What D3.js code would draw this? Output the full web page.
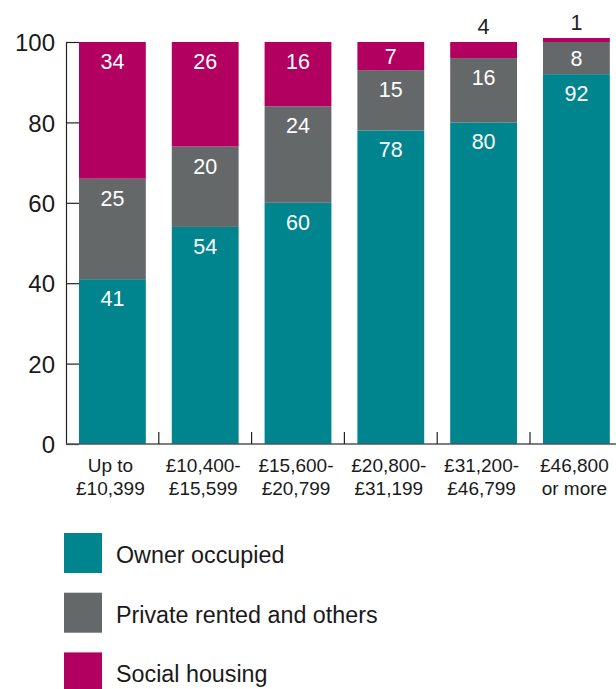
<!DOCTYPE html>
<html>
<head>
<meta charset="utf-8">
<script src="https://cdn.jsdelivr.net/npm/d3@7"></script>
<style>
  html, body { margin: 0; padding: 0; background: #fff; }
  svg { display: block; font-family: "Liberation Sans", Arial, sans-serif; }
</style>
</head>
<body>
<svg id="chart" width="616" height="689"></svg>
<script>
// Household income bands (two-line labels)
const categories = [
  ["Up to", "£10,399"],
  ["£10,400-", "£15,599"],
  ["£15,600-", "£20,799"],
  ["£20,800-", "£31,199"],
  ["£31,200-", "£46,799"],
  ["£46,800", "or more"]
];

// Tenure shares, per cent
const ownerOccupied = [41, 54, 60, 78, 80, 92];
const privateRented = [25, 20, 24, 15, 16, 8];
const socialHousing = [34, 26, 16, 7, 4, 1];

const seriesNames = ["Owner occupied", "Private rented and others", "Social housing"];
const seriesColors = ["#00858f", "#656869", "#b1005f"];
const yTicks = [0, 20, 40, 60, 80, 100];

const svg = d3.select("#chart");

const rows = categories.map((c, i) => ({
  key: i,
  owner: ownerOccupied[i],
  privateRented: privateRented[i],
  social: socialHousing[i]
}));
const keys = ["owner", "privateRented", "social"];
const stacked = d3.stack().keys(keys)(rows);

const x = d3.scaleBand()
  .domain(d3.range(categories.length))
  .range([66, 622.8])
  .paddingInner(0.28)
  .paddingOuter(0.14);

const y = d3.scaleLinear().domain([0, 100]).range([444, 42]);

// Bars
const layers = svg.append("g").selectAll("g")
  .data(stacked)
  .join("g")
  .attr("fill", (d, i) => seriesColors[i]);

layers.selectAll("rect")
  .data(d => d)
  .join("rect")
  .attr("x", d => x(d.data.key))
  .attr("width", x.bandwidth())
  .attr("y", d => y(d[1]))
  .attr("height", d => y(d[0]) - y(d[1]));

// Value labels: near the top of tall segments, centred in short ones,
// above the stack when the segment is too thin
const labels = svg.append("g")
  .attr("text-anchor", "middle")
  .style("font-size", "21.5px");

stacked.forEach((layer) => {
  layer.forEach((d) => {
    const v = d[1] - d[0];
    const top = y(d[1]);
    const h = y(d[0]) - top;
    const cx = x(d.data.key) + x.bandwidth() / 2;
    let yy, fill;
    if (h >= 50) { yy = top + 27; fill = "#fff"; }
    else if (h >= 24) { yy = top + h / 2 + 7.5; fill = "#fff"; }
    else { yy = top - 8; fill = "#222"; }
    labels.append("text")
      .attr("x", cx)
      .attr("y", yy)
      .attr("fill", fill)
      .text(v);
  });
});

// Y axis
const yAxis = svg.append("g")
  .attr("transform", "translate(66,0)")
  .call(d3.axisLeft(y).tickValues(yTicks).tickSize(-13).tickSizeOuter(0).tickPadding(11));
yAxis.select(".domain").attr("stroke", "#222").attr("stroke-width", 1.2);
yAxis.selectAll(".tick line").attr("stroke", "#222").attr("stroke-width", 1.2);
yAxis.selectAll(".tick text")
  .attr("fill", "#1a1a1a")
  .style("font-family", "'Liberation Sans', Arial, sans-serif")
  .style("font-size", "24px")
  .attr("dy", "0.36em");

// X baseline and category boundary ticks
const xAxis = svg.append("g");
xAxis.append("line")
  .attr("x1", 66).attr("x2", 616)
  .attr("y1", y(0)).attr("y2", y(0))
  .attr("stroke", "#555").attr("stroke-width", 1.6);

const gap = x.step() - x.bandwidth();
xAxis.selectAll("line.sep")
  .data(d3.range(1, categories.length))
  .join("line")
  .attr("class", "sep")
  .attr("x1", d => x(d) - gap / 2).attr("x2", d => x(d) - gap / 2)
  .attr("y1", y(0)).attr("y2", y(0) - 12)
  .attr("stroke", "#222").attr("stroke-width", 1.2);

const xLabels = xAxis.selectAll("text.cat")
  .data(categories)
  .join("text")
  .attr("class", "cat")
  .attr("text-anchor", "middle")
  .attr("fill", "#1a1a1a")
  .style("font-size", "19px")
  .attr("x", (d, i) => x(i) + x.bandwidth() / 2 - 2)
  .attr("y", 472);
xLabels.selectAll("tspan")
  .data(d => d)
  .join("tspan")
  .attr("x", function () { return d3.select(this.parentNode).attr("x"); })
  .attr("dy", (d, i) => i === 0 ? 0 : 23)
  .text(d => d);

// Legend
const legend = svg.append("g").attr("transform", "translate(64,533)");
const items = legend.selectAll("g")
  .data(seriesNames)
  .join("g")
  .attr("transform", (d, i) => `translate(0,${i * 59.7})`);
items.append("rect")
  .attr("width", 38).attr("height", 40)
  .attr("fill", (d, i) => seriesColors[i]);
items.append("text")
  .attr("x", 52).attr("y", 30)
  .attr("fill", "#1a1a1a")
  .style("font-size", "23.3px")
  .text(d => d);
</script>
</body>
</html>
